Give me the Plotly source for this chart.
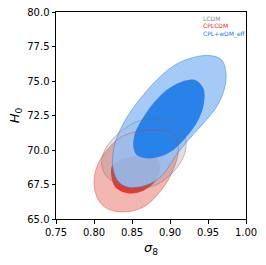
import plotly.graph_objects as go

# contour outlines (sigma_8, H0)
blue_outer_s8 = [0.9737, 0.9711, 0.9614, 0.9439, 0.9241, 0.9066, 0.8956, 0.8825, 0.8649, 0.8452, 0.8320,
                 0.8254, 0.8246, 0.8276, 0.8364, 0.8496, 0.8649, 0.8846, 0.9066, 0.9307, 0.9526, 0.9680]
blue_outer_h0 = [75.56, 74.35, 73.14, 71.93, 70.72, 69.52, 68.55, 67.83, 67.39, 67.29, 67.71,
                 68.55, 69.52, 70.48, 71.69, 72.90, 73.99, 75.19, 76.16, 76.71, 76.84, 76.52]

blue_inner_s8 = [0.9329, 0.9439, 0.9447, 0.9373, 0.9219, 0.9044, 0.8868, 0.8693, 0.8561, 0.8518,
                 0.8539, 0.8627, 0.8781, 0.8956, 0.9154]
blue_inner_h0 = [75.07, 74.47, 73.38, 72.17, 70.97, 70.00, 69.52, 69.40, 69.64, 70.24,
                 71.21, 72.17, 73.38, 74.35, 74.95]

red_outer_s8 = [0.9044, 0.9110, 0.9088, 0.9000, 0.8868, 0.8693, 0.8518, 0.8320, 0.8167, 0.8057,
                0.8004, 0.8013, 0.8079, 0.8211, 0.8364, 0.8561, 0.8781, 0.8956]
red_outer_h0 = [71.21, 70.24, 69.28, 68.07, 66.98, 66.01, 65.60, 65.53, 65.77, 66.38,
                67.34, 68.31, 69.28, 70.24, 70.97, 71.33, 71.45, 71.38]

red_inner_s8 = [0.8232, 0.8276, 0.8452, 0.8649, 0.8803, 0.8868, 0.8846, 0.8737, 0.8518, 0.8342]
red_inner_h0 = [68.79, 67.34, 66.86, 67.05, 67.71, 68.55, 69.28, 69.64, 69.52, 69.28]

gray_outer_s8 = [0.8868, 0.9088, 0.9197, 0.9206, 0.9132, 0.8978, 0.8781, 0.8561, 0.8342, 0.8167,
                 0.8101, 0.8123, 0.8232, 0.8408, 0.8605]
gray_outer_h0 = [72.25, 71.81, 70.97, 70.00, 69.03, 68.07, 67.39, 67.22, 67.46, 68.07,
                 68.91, 69.76, 70.72, 71.57, 72.13]

gray_inner_s8 = [0.8693, 0.8868, 0.8912, 0.8825, 0.8649, 0.8452, 0.8298, 0.8254, 0.8320, 0.8496]
gray_inner_h0 = [70.53, 70.00, 69.15, 68.31, 67.83, 67.71, 68.19, 69.03, 69.88, 70.43]

labels = ["LCDM", "CPLCDM", "CPL+wDM_eff"]
label_colors = ["#8a8a8a", "#E03424", "#1f78f0"]

x_ticks = [0.75, 0.80, 0.85, 0.90, 0.95, 1.00]
x_tick_text = ["0.75", "0.80", "0.85", "0.90", "0.95", "1.00"]
y_ticks = [65.0, 67.5, 70.0, 72.5, 75.0, 77.5, 80.0]
y_tick_text = ["65.0", "67.5", "70.0", "72.5", "75.0", "77.5", "80.0"]


def closed(a):
    return list(a) + [a[0]]


def region(xs, ys, fill):
    return go.Scatter(x=closed(xs), y=closed(ys), mode="lines", fill="toself",
                      fillcolor=fill, line=dict(color="rgba(0,0,0,0)", width=0, shape="spline", smoothing=1.0),
                      hoverinfo="skip", showlegend=False)


def outline(xs, ys, color, width=0.8):
    return go.Scatter(x=closed(xs), y=closed(ys), mode="lines",
                      line=dict(color=color, width=width, shape="spline", smoothing=1.0),
                      hoverinfo="skip", showlegend=False)


fig = go.Figure()
fig.add_trace(region(red_outer_s8, red_outer_h0, "rgba(224,52,36,0.36)"))
fig.add_trace(region(red_inner_s8, red_inner_h0, "rgba(224,52,36,0.95)"))
fig.add_trace(region(gray_outer_s8, gray_outer_h0, "rgba(128,128,128,0.25)"))
fig.add_trace(region(gray_inner_s8, gray_inner_h0, "rgba(128,128,128,0.25)"))
fig.add_trace(region(blue_outer_s8, blue_outer_h0, "rgba(150,193,244,0.85)"))
fig.add_trace(region(blue_inner_s8, blue_inner_h0, "rgba(30,125,232,0.93)"))
fig.add_trace(outline(red_outer_s8, red_outer_h0, "rgba(224,52,36,0.5)"))
fig.add_trace(outline(gray_outer_s8, gray_outer_h0, "rgba(110,110,110,0.5)"))
fig.add_trace(outline(blue_outer_s8, blue_outer_h0, "rgba(31,120,230,0.6)"))

legend_y = [0.969, 0.935, 0.895]
for lab, col, yy in zip(labels, label_colors, legend_y):
    fig.add_annotation(text=lab, x=0.763, y=yy, xref="paper", yref="paper", xanchor="left",
                       yanchor="middle", showarrow=False, font=dict(size=6, color=col))

axis_common = dict(showgrid=False, zeroline=False, showline=True, linecolor="black", linewidth=1,
                   mirror=True, ticks="outside", ticklen=3.5, tickwidth=1, tickcolor="black",
                   automargin=False,
                   tickfont=dict(size=10, color="black", family="DejaVu Sans"))

fig.update_xaxes(range=[0.75, 1.00], tickvals=x_ticks, ticktext=x_tick_text,
                 title=dict(text="<i>σ</i><sub>8</sub>", font=dict(size=13, color="black"), standoff=6),
                 **axis_common)
fig.update_yaxes(range=[65.0, 80.0], tickvals=y_ticks, ticktext=y_tick_text,
                 title=dict(text="<i>H</i><sub>0</sub>", font=dict(size=13, color="black"), standoff=4),
                 **axis_common)

fig.update_layout(width=266, height=265, margin=dict(l=56, r=20, t=12, b=46),
                  plot_bgcolor="white", paper_bgcolor="white",
                  font=dict(family="DejaVu Sans", color="black"), showlegend=False)

# remove the default 8 px page margin so the figure fills the window
fig.write_html("out.html", config={"displayModeBar": False},
               post_script="document.body.style.margin='0';document.body.style.overflow='hidden';")
